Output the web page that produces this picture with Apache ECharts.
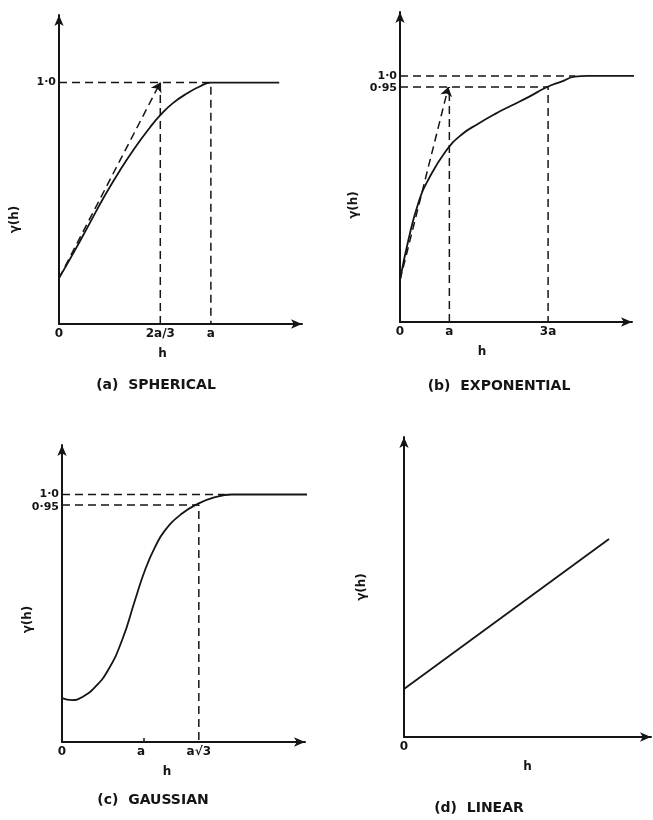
<!DOCTYPE html>
<html>
<head>
<meta charset="utf-8">
<script src="https://cdn.jsdelivr.net/npm/echarts@6/dist/echarts.min.js"></script>
<style>
html,body{margin:0;padding:0;background:#fff;}
#chart{width:653px;height:820px;}
</style>
</head>
<body>
<div id="chart"></div>
<script>
// (a) spherical, h in units of a
const sphH = [0, 0.1, 0.2, 0.3, 0.4, 0.5, 0.6, 0.667, 0.75, 0.85, 0.93, 1.0, 1.45];
const sphG = [0.19, 0.30, 0.415, 0.53, 0.635, 0.73, 0.815, 0.865, 0.915, 0.958, 0.985, 1.0, 1.0];
const sphTicks = [0, 0.667, 1];
const sphTickLabels = ['0', '2a/3', 'a'];
const sphYTicks = [1];
const sphYLabels = ['1·0'];

// (b) exponential
const expH = [0, 0.17, 0.37, 0.57, 0.93, 1.25, 1.585, 1.92, 2.26, 2.6, 2.97, 3.27, 3.54, 3.8, 5.05];
const expG = [0.17, 0.333, 0.483, 0.577, 0.695, 0.762, 0.806, 0.845, 0.88, 0.914, 0.954, 0.977, 0.997, 1.0, 1.0];
const expTicks = [0, 1, 3];
const expTickLabels = ['0', 'a', '3a'];
const expYTicks = [0.95, 1];
const expYLabels = ['0·95', '1·0'];

// (c) gaussian
const gauH = [0, 0.127, 0.253, 0.418, 0.582, 0.76, 0.924, 1.05, 1.177, 1.304, 1.515, 1.718, 1.937, 2.148, 3.14];
const gauG = [0.177, 0.169, 0.181, 0.222, 0.29, 0.411, 0.573, 0.694, 0.787, 0.855, 0.922, 0.962, 0.989, 1.0, 1.0];
const gauTicks = [0, 1, 1.732];
const gauTickLabels = ['0', 'a', 'a√3'];
const gauYTicks = [0.95, 1];
const gauYLabels = ['0·95', '1·0'];

// (d) linear
const linH = [0, 8.3];
const linG = [1.6, 6.6];
const linTicks = [0];
const linTickLabels = ['0'];

// dashed guide lines (data units)
const sphGuides = [
  [[0, 1], [1, 1], [1, 0]],
  [[0.667, 0], [0.667, 1]]
];
const sphTangent = [[0, 0.19], [0.667, 1]];
const expGuides = [
  [[0, 1], [3.55, 1]],
  [[0, 0.955], [3, 0.955], [3, 0]],
  [[1, 0], [1, 0.955]]
];
const expTangent = [[0, 0.17], [0.98, 0.955]];
const gauGuides = [
  [[0, 1], [2.06, 1]],
  [[0, 0.958], [1.732, 0.958], [1.732, 0]]
];

const titles = ['(a)  SPHERICAL', '(b)  EXPONENTIAL', '(c)  GAUSSIAN', '(d)  LINEAR'];

const INK = '#151515';
const FONT = 'DejaVu Sans';

function zip(xs, ys) {
  return xs.map((x, i) => [x, ys[i]]);
}
function pick(ticks, labels) {
  return function (v) {
    let best = 0;
    ticks.forEach((t, i) => {
      if (Math.abs(t - v) < Math.abs(ticks[best] - v)) best = i;
    });
    return labels[best];
  };
}

function xAxisOf(idx, max, ticks, labels, namePad, tickIn) {
  return {
    type: 'value', gridIndex: idx, min: 0, max: max,
    name: 'h', nameLocation: 'middle', nameGap: 24,
    nameTextStyle: { color: INK, fontFamily: FONT, fontWeight: 'bold', fontSize: 12, padding: [0, namePad, 0, 0] },
    axisLine: { show: true, symbol: ['none', 'arrow'], symbolSize: [7, 11], lineStyle: { color: INK, width: 2 } },
    axisTick: tickIn ? { show: true, inside: true, length: 4, customValues: tickIn, lineStyle: { color: INK, width: 1.5 } } : { show: false },
    axisLabel: {
      customValues: ticks, formatter: pick(ticks, labels), hideOverlap: false,
      color: INK, fontFamily: FONT, fontWeight: 'bold', fontSize: 12, margin: 4
    },
    splitLine: { show: false }
  };
}
function yAxisOf(idx, max, ticks, labels, nameGap, namePad) {
  return {
    type: 'value', gridIndex: idx, min: 0, max: max,
    name: 'γ(h)', nameLocation: 'middle', nameRotate: 90, nameGap: nameGap,
    nameMoveOverlap: false,
    nameTextStyle: { color: INK, fontFamily: FONT, fontWeight: 'bold', fontSize: 12, padding: [0, namePad, 0, 0] },
    axisLine: { show: true, symbol: ['none', 'arrow'], symbolSize: [7, 11], lineStyle: { color: INK, width: 2 } },
    axisTick: { show: false },
    axisLabel: ticks.length ? {
      customValues: ticks, formatter: pick(ticks, labels), hideOverlap: false,
      color: INK, fontFamily: FONT, fontWeight: 'bold', fontSize: 11, margin: 3
    } : { show: false },
    splitLine: { show: false }
  };
}

function curve(idx, data, tangent) {
  const s = {
    type: 'line', xAxisIndex: idx, yAxisIndex: idx, data: data,
    symbol: 'none', smooth: 0.5, clip: false, silent: true,
    lineStyle: { color: INK, width: 1.8 }
  };
  if (tangent) {
    s.markLine = {
      silent: true, symbol: ['none', 'arrow'], symbolSize: 9,
      label: { show: false },
      lineStyle: { color: INK, width: 1.5, type: [8, 5] },
      data: [[{ coord: tangent[0] }, { coord: tangent[1] }]]
    };
  }
  return s;
}
function dashed(idx, data) {
  return {
    type: 'line', xAxisIndex: idx, yAxisIndex: idx, data: data,
    symbol: 'none', clip: false, silent: true,
    lineStyle: { color: INK, width: 1.5, type: [8, 5] }
  };
}

const chart = echarts.init(document.getElementById('chart'));
const option = {
  animation: false,
  backgroundColor: '#fff',
  title: [
    { text: titles[0], left: 151, top: 373, textAlign: 'center' },
    { text: titles[1], left: 494, top: 374, textAlign: 'center' },
    { text: titles[2], left: 148, top: 788, textAlign: 'center' },
    { text: titles[3], left: 474, top: 796, textAlign: 'center' }
  ].map(t => Object.assign(t, {
    textStyle: { color: INK, fontFamily: FONT, fontWeight: 'bold', fontSize: 14 }
  })),
  grid: [
    { left: 59, top: 15, width: 243, height: 309 },
    { left: 400, top: 12, width: 232, height: 310 },
    { left: 62, top: 445, width: 243, height: 297 },
    { left: 404, top: 437, width: 247, height: 300 }
  ],
  xAxis: [
    xAxisOf(0, 1.6, sphTicks, sphTickLabels, 36),
    xAxisOf(1, 4.7, expTicks, expTickLabels, 68),
    xAxisOf(2, 3.076, gauTicks, gauTickLabels, 33, [1.03]),
    xAxisOf(3, 10, linTicks, linTickLabels, 0)
  ],
  yAxis: [
    yAxisOf(0, 1.28, sphYTicks, sphYLabels, 38, 100),
    yAxisOf(1, 1.26, expYTicks, expYLabels, 40, 76),
    yAxisOf(2, 1.2, gauYTicks, gauYLabels, 28, 52),
    yAxisOf(3, 10, [], [], 36, 0)
  ],
  series: [
    curve(0, zip(sphH, sphG), sphTangent),
    ...sphGuides.map(g => dashed(0, g)),
    curve(1, zip(expH, expG), expTangent),
    ...expGuides.map(g => dashed(1, g)),
    curve(2, zip(gauH, gauG)),
    ...gauGuides.map(g => dashed(2, g)),
    curve(3, zip(linH, linG))
  ]
};
chart.setOption(option);
</script>
</body>
</html>
